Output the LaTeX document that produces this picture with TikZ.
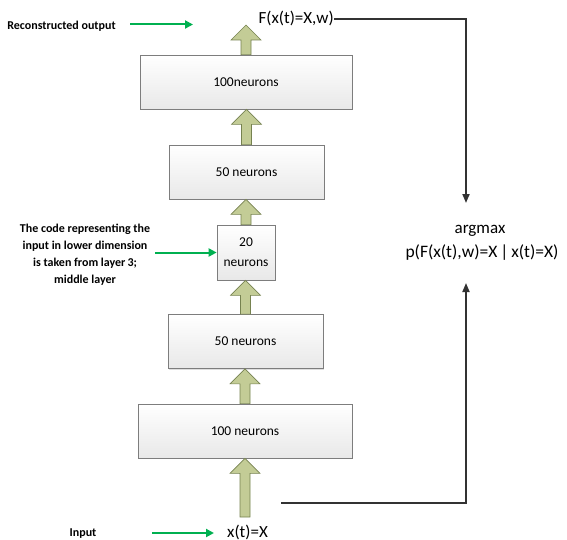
\documentclass[tikz,border=0pt]{standalone}
\usepackage{fontspec}
\setmainfont{Carlito}
\usetikzlibrary{arrows.meta,calc,shadows}

\definecolor{olivefill}{RGB}{195,204,150}
\definecolor{olivedraw}{RGB}{118,130,80}
\definecolor{flowgreen}{RGB}{0,176,80}
\definecolor{linkgray}{RGB}{50,50,50}
\definecolor{boxedge}{RGB}{125,125,125}

% olive block arrow pointing up, from a base point to the level of a target point
\newcommand{\liftarrow}[2]{%
  \coordinate (la-base) at (#1);
  \coordinate (la-tip) at (#1 |- #2);
  \draw[blockarrow]
    ($(la-base)+(-5,0)$) -- ($(la-tip)+(-5,15)$) -- ($(la-tip)+(-15,15)$) --
    (la-tip) -- ($(la-tip)+(15,15)$) -- ($(la-tip)+(5,15)$) --
    ($(la-base)+(5,0)$) -- cycle;}

\begin{document}
\begin{tikzpicture}[x=1pt,y=-1pt,
  layer/.style={draw=boxedge, line width=0.7pt, top color=white, bottom color=black!9,
    minimum height=54pt, inner sep=0pt, align=center,
    font=\fontsize{13.5}{20}\selectfont,
    drop shadow={shadow xshift=1pt,shadow yshift=-1pt,fill=black!25}},
  blockarrow/.style={fill=olivefill, draw=olivedraw, line width=0.6pt, line join=miter},
  greenflow/.style={draw=flowgreen, line width=2pt, -{Triangle[length=8pt,width=8pt]}},
  feedback/.style={draw=linkgray, line width=1.8pt, -{Triangle[length=9pt,width=7pt]}},
  sidelabel/.style={font=\bfseries\fontsize{12}{17.2}\selectfont, inner sep=0pt, align=center},
  formula/.style={font=\fontsize{17}{24}\selectfont, inner sep=0pt}]

\useasboundingbox (0,0) rectangle (567,540);

% layers of the autoencoder, bottom to top
\node[layer, minimum width=214pt] (l1) at (245,431)   {100 neurons};
\node[layer, minimum width=155pt] (l2) at (245.5,341.5) {50 neurons};
\node[layer, minimum width=58pt, minimum height=55pt] (l3) at (246,252.5) {20\\neurons};
\node[layer, minimum width=155pt] (l4) at (246.5,172) {50 neurons};
\node[layer, minimum width=212pt] (l5) at (246,82)    {100neurons};

% input and output expressions
\node[formula, anchor=base west] (inx) at (227,537) {x(t)=X};
\node[formula, anchor=base east] (fout) at (334,24) {F(x(t)=X,w)};
\node[formula, anchor=base] (amtop) at (480,233) {argmax};
\node[formula, font=\fontsize{17.5}{24}\selectfont, anchor=base] (amexpr) at (482,257) {p(F(x(t),w)=X\,|\,x(t)=X)};

% side labels
\node[sidelabel, anchor=base] (recon) at (61.5,29.5) {Reconstructed output};
\node[sidelabel, anchor=north] (code) at (85,223.5) {The code representing the\\input in lower dimension\\is taken from layer\,3;\\middle layer};
\node[sidelabel, anchor=base] (inlab) at (83,536) {Input};

% flow between layers
\coordinate (inbase) at (245,517);
\coordinate (outtip) at (244,25);
\liftarrow{inbase}{l1.south}
\liftarrow{l1.north}{l2.south}
\liftarrow{l2.north}{l3.south}
\liftarrow{l3.north}{l4.south}
\liftarrow{l4.north}{l5.south}
\liftarrow{l5.north}{outtip}

% green pointers from the side labels
\coordinate (rs) at (130,24.5);
\coordinate (re) at (193,24.5);
\coordinate (cs) at (155,252.5);
\coordinate (is) at (152,533);
\coordinate (ie) at (214,533);
\draw[greenflow] (rs) -- (re);
\draw[greenflow] (cs) -- (l3.west);
\draw[greenflow] (is) -- (ie);

% both signals feed the argmax
\coordinate (amin) at (466,203);
\coordinate (amfeed) at (466,283);
\coordinate (feedstart) at (281,503);
\draw[feedback] (fout.east) -| (amin);
\draw[feedback] (feedstart) -| (amfeed);

\end{tikzpicture}
\end{document}
